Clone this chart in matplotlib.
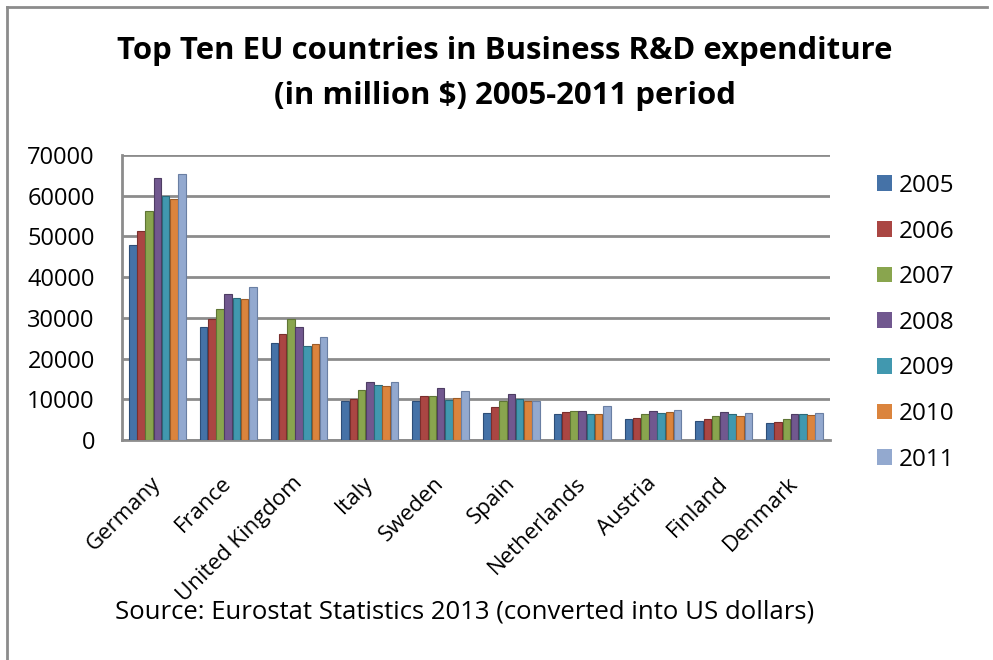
import matplotlib
matplotlib.use("Agg")
import matplotlib.pyplot as plt
import numpy as np
from matplotlib.lines import Line2D
from matplotlib.patches import Patch

countries = ["Germany", "France", "United Kingdom", "Italy", "Sweden", "Spain",
             "Netherlands", "Austria", "Finland", "Denmark"]
years = ["2005", "2006", "2007", "2008", "2009", "2010", "2011"]

v2005 = [47800, 27700, 23900, 9600, 9500, 6600, 6300, 5100, 4600, 4200]
v2006 = [51300, 29700, 26100, 10100, 10900, 8100, 6800, 5400, 5100, 4400]
v2007 = [56200, 32200, 29700, 12300, 10800, 9600, 7100, 6300, 5800, 5200]
v2008 = [64300, 35900, 27800, 14200, 12700, 11200, 7200, 7200, 7000, 6400]
v2009 = [60000, 35000, 23200, 13600, 9800, 10000, 6400, 6700, 6400, 6400]
v2010 = [59300, 34600, 23600, 13200, 10300, 9500, 6400, 6900, 6000, 6200]
v2011 = [65400, 37700, 25200, 14200, 12000, 9700, 8400, 7400, 6600, 6600]
series = [v2005, v2006, v2007, v2008, v2009, v2010, v2011]

title_lines = ["Top Ten EU countries in Business R&D expenditure",
               "(in million $) 2005-2011 period"]
source_text = "Source: Eurostat Statistics 2013 (converted into US dollars)"

colors = ["#4572A7", "#AA4643", "#89A54E", "#71588F", "#4198AF", "#DB843D", "#93A9CF"]
edges = ["#2E4E78", "#7A2F2D", "#5F7535", "#4E3D63", "#2C6A7A", "#9C5C28", "#6A7FA3"]

plt.rcParams['font.family'] = ['Open Sans', 'DejaVu Sans']

fig = plt.figure(figsize=(9.93, 6.60), dpi=100)
fig.patch.set_facecolor("white")

# outer frame (left and top)
fig.add_artist(Line2D([7/993, 7/993], [0, 1 - 7/660], color="#8C8C8C", lw=2,
                      transform=fig.transFigure))
fig.add_artist(Line2D([7/993, 987/993], [1 - 7/660, 1 - 7/660], color="#8C8C8C", lw=2,
                      transform=fig.transFigure))

ax = fig.add_axes([122/993, 1 - 440/660, (830 - 122)/993, (440 - 155)/660])

x = np.arange(len(countries))
w = 0.116
for i, (vals, c, e) in enumerate(zip(series, colors, edges)):
    ax.bar(x + (i - 3) * w, vals, width=w * 0.92, color=c, edgecolor=e, linewidth=0.8,
           label=years[i], zorder=3)

ax.set_xlim(-0.5, len(countries) - 0.5)
ax.set_ylim(0, 70000)
ax.set_yticks(np.arange(0, 70001, 10000))
ax.set_yticklabels([str(v) for v in range(0, 70001, 10000)], fontsize=17)
ax.yaxis.grid(True, color="#8C8C8C", lw=2, zorder=0)
ax.tick_params(axis='y', length=0, pad=19.5)
ax.tick_params(axis='x', length=0, pad=23.5)
ax.set_xticks(x - 0.1)
ax.set_xticklabels(countries, rotation=45, ha='right', rotation_mode='anchor', fontsize=16)
for s in ["top", "right"]:
    ax.spines[s].set_visible(False)
ax.spines["left"].set_color("#8C8C8C")
ax.spines["left"].set_linewidth(2)
ax.spines["bottom"].set_color("#8C8C8C")
ax.spines["bottom"].set_linewidth(2)

handles = [Patch(facecolor=c, edgecolor='none') for c in colors]
fig.legend(handles, years, loc='upper left', bbox_to_anchor=(855/993, 1 - 152/660),
           frameon=False, fontsize=17.5, handlelength=0.62, handleheight=0.62,
           handletextpad=0.3, labelspacing=0.89)

fig.text(505/993, 1 - 59/660, title_lines[0],
         ha='center', va='baseline', fontsize=22.4, fontweight='bold')
fig.text(505/993, 1 - 104/660, title_lines[1],
         ha='center', va='baseline', fontsize=22.4, fontweight='bold')

fig.text(465/993, 1 - 612/660, source_text,
         ha='center', va='center', fontsize=18.5)

fig.savefig("out.png", dpi=100, facecolor="white")
